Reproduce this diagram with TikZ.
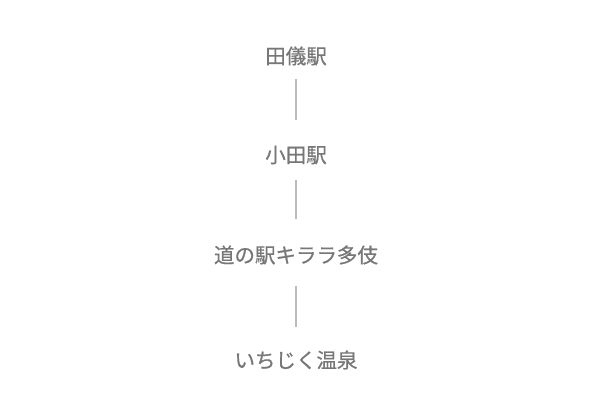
\documentclass[tikz,border=0pt]{standalone}
\usepackage{fontspec}
\newfontfamily\cjk[FakeBold=0.6]{Noto Sans CJK JP}
\definecolor{txtgray}{HTML}{777777}
\definecolor{linegray}{HTML}{BBBBBB}
\begin{document}
\begin{tikzpicture}[x=1pt,y=-1pt,
  station/.style={text=txtgray,font=\cjk\fontsize{20.5}{24}\selectfont,inner sep=0pt},
  link/.style={draw=linegray,line width=1.4pt}]
\useasboundingbox[fill=white] (0,0) rectangle (600,406);
\node[station] (a) at (296,56) {田儀駅};
\node[station] (b) at (296,155) {小田駅};
\node[station] (c) at (296,255) {道の駅キララ多伎};
\node[station] (d) at (296,360) {いちじく温泉};
\coordinate (a1) at (296,79); \coordinate (a2) at (296,120);
\coordinate (b1) at (296,180); \coordinate (b2) at (296,219);
\coordinate (c1) at (296,286); \coordinate (c2) at (296,327);
\draw[link] (a1) -- (a2);
\draw[link] (b1) -- (b2);
\draw[link] (c1) -- (c2);
\end{tikzpicture}
\end{document}
